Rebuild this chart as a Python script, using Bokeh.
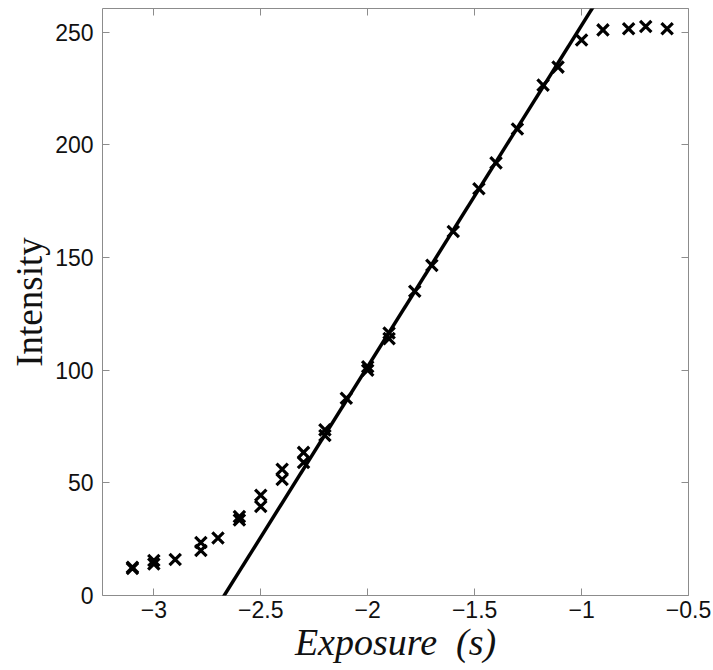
from bokeh.plotting import figure
from bokeh.models import FixedTicker, LinearAxis, Range1d
from bokeh.embed import file_html
from bokeh.resources import INLINE

# --- data ---
exposure_a = [-3.1, -3.0, -2.9, -2.78, -2.7, -2.6, -2.5, -2.4, -2.3, -2.2, -2.1, -2.0, -1.9,
              -1.78, -1.7, -1.6, -1.48, -1.4, -1.3, -1.18, -1.11, -1.0, -0.9, -0.78, -0.7, -0.6]
intensity_a = [12, 15.5, 16, 23.5, 25.5, 35, 44.5, 56, 63.5, 73.5, 87.5, 101.5, 116.5,
               135, 146.5, 161.5, 180.5, 192, 207, 226.5, 234.5, 246.5, 251, 251.5, 252.5, 251.5]
exposure_b = [-3.1, -3.0, -2.78, -2.6, -2.5, -2.4, -2.3, -2.2, -2.0, -1.9]
intensity_b = [12.5, 14, 20, 33.5, 39.5, 51.5, 59, 71, 100, 114]

fit_slope = 151.4
fit_intercept = 404.4
fit_x = [-2.75, -0.9]

x_ticks = [-3, -2.5, -2, -1.5, -1, -0.5]
x_tick_labels = ["\u22123", "\u22122.5", "\u22122", "\u22121.5", "\u22121", "\u22120.5"]
y_ticks = [0, 50, 100, 150, 200, 250]
y_tick_labels = ["0", "50", "100", "150", "200", "250"]

fit_y = [fit_slope * x + fit_intercept for x in fit_x]

p = figure(width=713, height=670, frame_width=586, frame_height=587,
           x_range=Range1d(-3.24, -0.5), y_range=Range1d(0, 260.5),
           output_backend="svg", toolbar_location=None,
           min_border_left=102, min_border_right=25, min_border_top=8, min_border_bottom=75,
           background_fill_color="white", border_fill_color="white")
p.grid.visible = False
p.outline_line_color = "#8c8c8c"
p.outline_line_width = 1

tick_color = "#8c8c8c"
font_sans = "Liberation Sans"

for ax in (p.xaxis[0], p.yaxis[0]):
    ax.axis_line_color = None
    ax.major_tick_in = 7
    ax.major_tick_out = 0
    ax.minor_tick_line_color = None
    ax.major_tick_line_color = tick_color
    ax.major_label_text_font = font_sans
    ax.major_label_text_font_size = "23px"
    ax.major_label_text_color = "#111111"
    ax.axis_label_text_font = "Liberation Serif"
    ax.axis_label_text_color = "#111111"

p.xaxis.ticker = FixedTicker(ticks=x_ticks)
p.xaxis.major_label_overrides = dict(zip(x_ticks, x_tick_labels))
p.yaxis.ticker = FixedTicker(ticks=y_ticks)
p.yaxis.major_label_overrides = dict(zip(y_ticks, y_tick_labels))
p.xaxis.major_label_standoff = 5
p.yaxis.major_label_standoff = 9
p.xaxis.axis_label = "Exposure\u2002(s)"
p.xaxis.axis_label_text_font_size = "38px"
p.xaxis.axis_label_text_font_style = "italic"
p.xaxis.axis_label_standoff = 0
p.yaxis.axis_label = "Intensity"
p.yaxis.axis_label_text_font_size = "37px"
p.yaxis.axis_label_text_font_style = "normal"
p.yaxis.axis_label_standoff = 2

# mirrored ticks on top and right (no labels)
top = LinearAxis(ticker=FixedTicker(ticks=x_ticks),
                 major_label_overrides={t: "" for t in x_ticks},
                 axis_line_color=None, major_tick_in=7, major_tick_out=0,
                 major_tick_line_color=tick_color, minor_tick_line_color=None)
right = LinearAxis(ticker=FixedTicker(ticks=y_ticks),
                   major_label_overrides={t: "" for t in y_ticks},
                   axis_line_color=None, major_tick_in=7, major_tick_out=0,
                   major_tick_line_color=tick_color, minor_tick_line_color=None)
p.add_layout(top, "above")
p.add_layout(right, "right")

p.line(fit_x, fit_y, line_color="black", line_width=3.5)
p.scatter(exposure_a, intensity_a, marker="x", size=16, line_color="black", line_width=3.2)
p.scatter(exposure_b, intensity_b, marker="x", size=16, line_color="black", line_width=3.2)

open("out.html", "w").write(file_html(p, INLINE))
